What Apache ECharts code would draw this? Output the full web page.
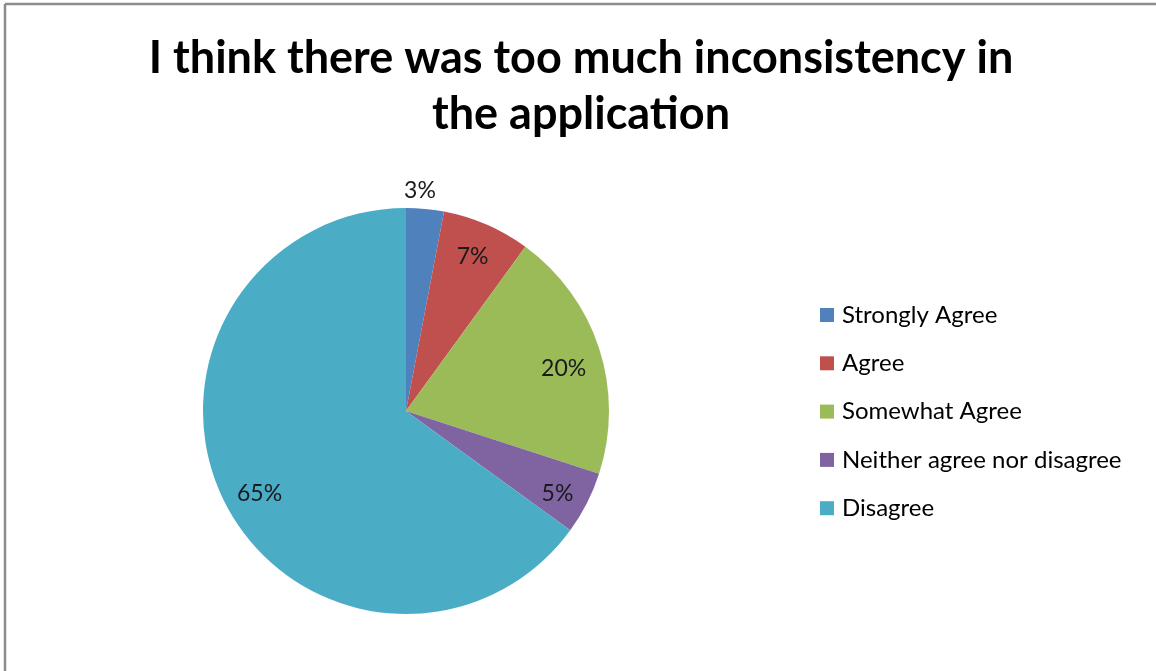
<!DOCTYPE html>
<html>
<head>
<meta charset="utf-8">
<script src="https://cdn.jsdelivr.net/npm/echarts@6/dist/echarts.min.js"></script>
<style>
html,body{margin:0;padding:0;background:#fff;}
#chart{width:1156px;height:671px;}
</style>
</head>
<body>
<div id="chart"></div>
<script>
const titleText = 'I think there was too much inconsistency in\nthe application';
const categories = ['Strongly Agree', 'Agree', 'Somewhat Agree', 'Neither agree nor disagree', 'Disagree'];
const values = [3, 7, 20, 5, 65];
const colors = ['#4F81BD', '#C0504D', '#9BBB59', '#8064A2', '#4BACC6'];
const labelOffsets = [[-2, -51], [-1, 2], [-4, 10], [0, 5], [5, 5]];

const FONT = 'Lato';
const chart = echarts.init(document.getElementById('chart'));

const mainData = categories.map((c, i) => ({ name: c, value: values[i], itemStyle: { color: colors[i] } }));
const labelData = categories.map((c, i) => ({ name: c, value: values[i], label: { offset: labelOffsets[i] } }));

chart.setOption({
  animation: false,
  title: {
    text: titleText,
    left: 576,
    textAlign: 'center',
    top: 25,
    textStyle: { fontFamily: FONT, fontSize: 45, fontWeight: 'bold', color: '#000', lineHeight: 56 }
  },
  legend: {
    orient: 'vertical',
    left: 815,
    top: 298,
    itemWidth: 14,
    itemHeight: 14,
    itemGap: 24.3,
    icon: 'rect',
    data: categories,
    textStyle: { fontFamily: FONT, fontSize: 24, color: '#000', lineHeight: 20, padding: [0, 0, 0, 3] }
  },
  graphic: [
    { type: 'line', shape: { x1: 5, y1: 4, x2: 1156, y2: 4 }, style: { stroke: '#8c8c8c', lineWidth: 2.5 } },
    { type: 'line', shape: { x1: 5, y1: 4, x2: 5, y2: 671 }, style: { stroke: '#8c8c8c', lineWidth: 2.5 } }
  ],
  series: [
    {
      type: 'pie',
      center: [406, 411],
      radius: [0, 203],
      startAngle: 90,
      clockwise: true,
      label: { show: false },
      labelLine: { show: false },
      itemStyle: { borderWidth: 0 },
      emphasis: { disabled: true },
      data: mainData
    },
    {
      type: 'pie',
      center: [406, 411],
      radius: [130, 204],
      startAngle: 90,
      clockwise: true,
      silent: true,
      legendHoverLink: false,
      itemStyle: { color: 'rgba(0,0,0,0)', borderWidth: 0 },
      label: {
        show: true,
        position: 'inside',
        formatter: '{c}%',
        fontFamily: FONT,
        fontSize: 23,
        color: '#1a1a1a'
      },
      labelLine: { show: false },
      emphasis: { disabled: true },
      data: labelData
    }
  ]
});
</script>
</body>
</html>
